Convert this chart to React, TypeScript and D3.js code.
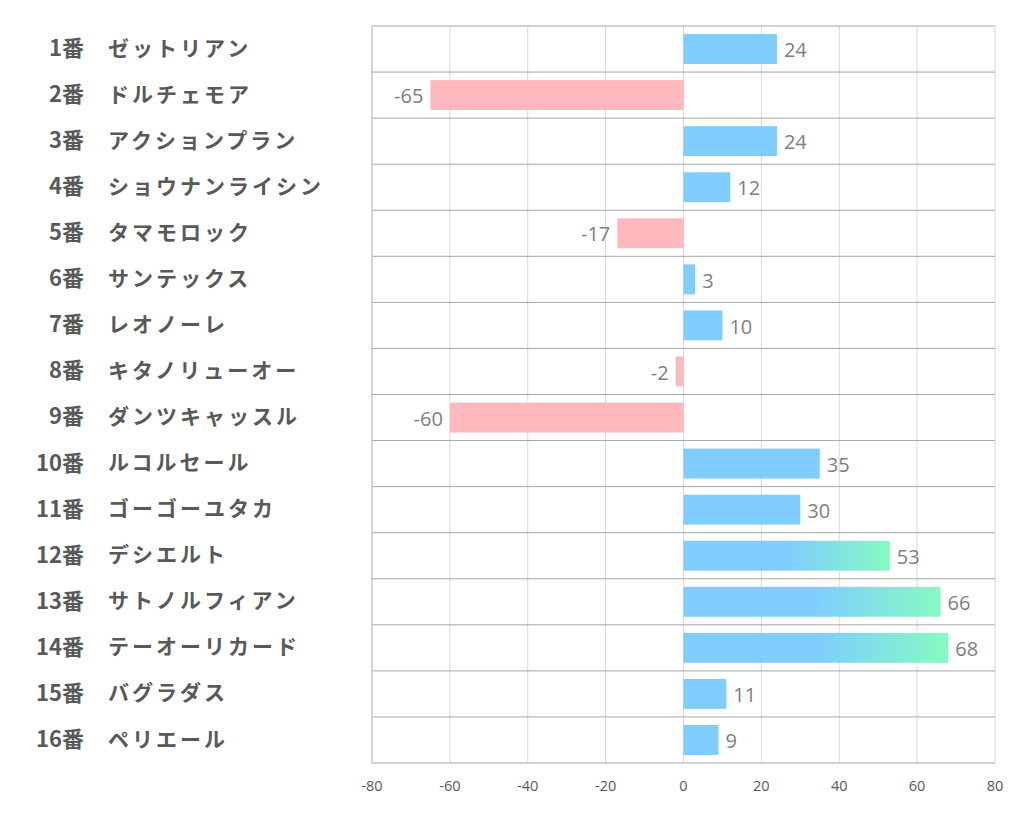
import React from "react";
import * as d3 from "d3";

const numbers = ["1番","2番","3番","4番","5番","6番","7番","8番","9番","10番","11番","12番","13番","14番","15番","16番"];
const names = ["ゼットリアン","ドルチェモア","アクションプラン","ショウナンライシン","タマモロック","サンテックス","レオノーレ","キタノリューオー","ダンツキャッスル","ルコルセール","ゴーゴーユタカ","デシエルト","サトノルフィアン","テーオーリカード","バグラダス","ペリエール"];
const values = [24,-65,24,12,-17,3,10,-2,-60,35,30,53,66,68,11,9];
const ticks = [-80,-60,-40,-20,0,20,40,60,80];
const gradientThreshold = 50;

const W = 1022, H = 834;
const left = 372, right = 995, top = 26, bottom = 763;

export default function App() {
  const x = d3.scaleLinear().domain([-80, 80]).range([left, right]);
  const y = d3.scaleBand<number>().domain(d3.range(values.length)).range([top, bottom]).paddingInner(0.35).paddingOuter(0.175);
  const rowH = (bottom - top) / values.length;
  const jp = "'Noto Sans CJK JP', 'Noto Sans', sans-serif";
  const num = "'Open Sans', 'Noto Sans', sans-serif";
  return (
    <svg width={W} height={H} style={{ position: "absolute", left: 0, top: 0, background: "#fff" }}>
      <defs>
        <linearGradient id="grad" x1="0" x2="1" y1="0" y2="0">
          <stop offset="0" stopColor="#75C9FF" />
          <stop offset="0.5" stopColor="#75C9FF" />
          <stop offset="1" stopColor="#7DF9BE" />
        </linearGradient>
      </defs>
      {ticks.map((t) => (
        <line key={"g" + t} x1={x(t)} x2={x(t)} y1={top} y2={bottom} stroke="#d9d9d9" strokeWidth={1} />
      ))}
      {d3.range(values.length + 1).map((i) => (
        <line key={"h" + i} x1={left} x2={right} y1={top + i * rowH} y2={top + i * rowH} stroke="#a6a6a6" strokeWidth={1} />
      ))}
      <line x1={left} x2={left} y1={top} y2={bottom} stroke="#bfbfbf" />
      {values.map((v, i) => {
        const x0 = x(Math.min(0, v));
        const w = Math.abs(x(v) - x(0));
        const fill = v < 0 ? "#FFB3B8" : v > gradientThreshold ? "url(#grad)" : "#75C9FF";
        return <rect key={"b" + i} x={x0} y={y(i)!} width={w} height={y.bandwidth()} fill={fill} opacity={0.93} />;
      })}
      {values.map((v, i) => (
        <text key={"v" + i} x={v >= 0 ? x(v) + 7 : x(v) - 7} y={y(i)! + y.bandwidth() / 2 + 1} dy="0.36em"
          textAnchor={v >= 0 ? "start" : "end"} fontFamily={num} fontSize={20} fill="#7f7f7f">{v}</text>
      ))}
      {names.map((n, i) => (
        <g key={"l" + i}>
          <text x={84} y={top + (i + 0.5) * rowH - 1} dy="0.36em" textAnchor="end" fontFamily={jp} fontWeight={700} fontSize={22} fill="#595959">{numbers[i]}</text>
          <text x={108} y={top + (i + 0.5) * rowH - 1} dy="0.36em" fontFamily={jp} fontWeight={700} fontSize={21} letterSpacing={3} fill="#595959">{n}</text>
        </g>
      ))}
      {ticks.map((t) => (
        <text key={"t" + t} x={x(t)} y={786} dy="0.36em" textAnchor="middle" fontFamily={num} fontSize={14.5} fill="#595959">{t}</text>
      ))}
    </svg>
  );
}
